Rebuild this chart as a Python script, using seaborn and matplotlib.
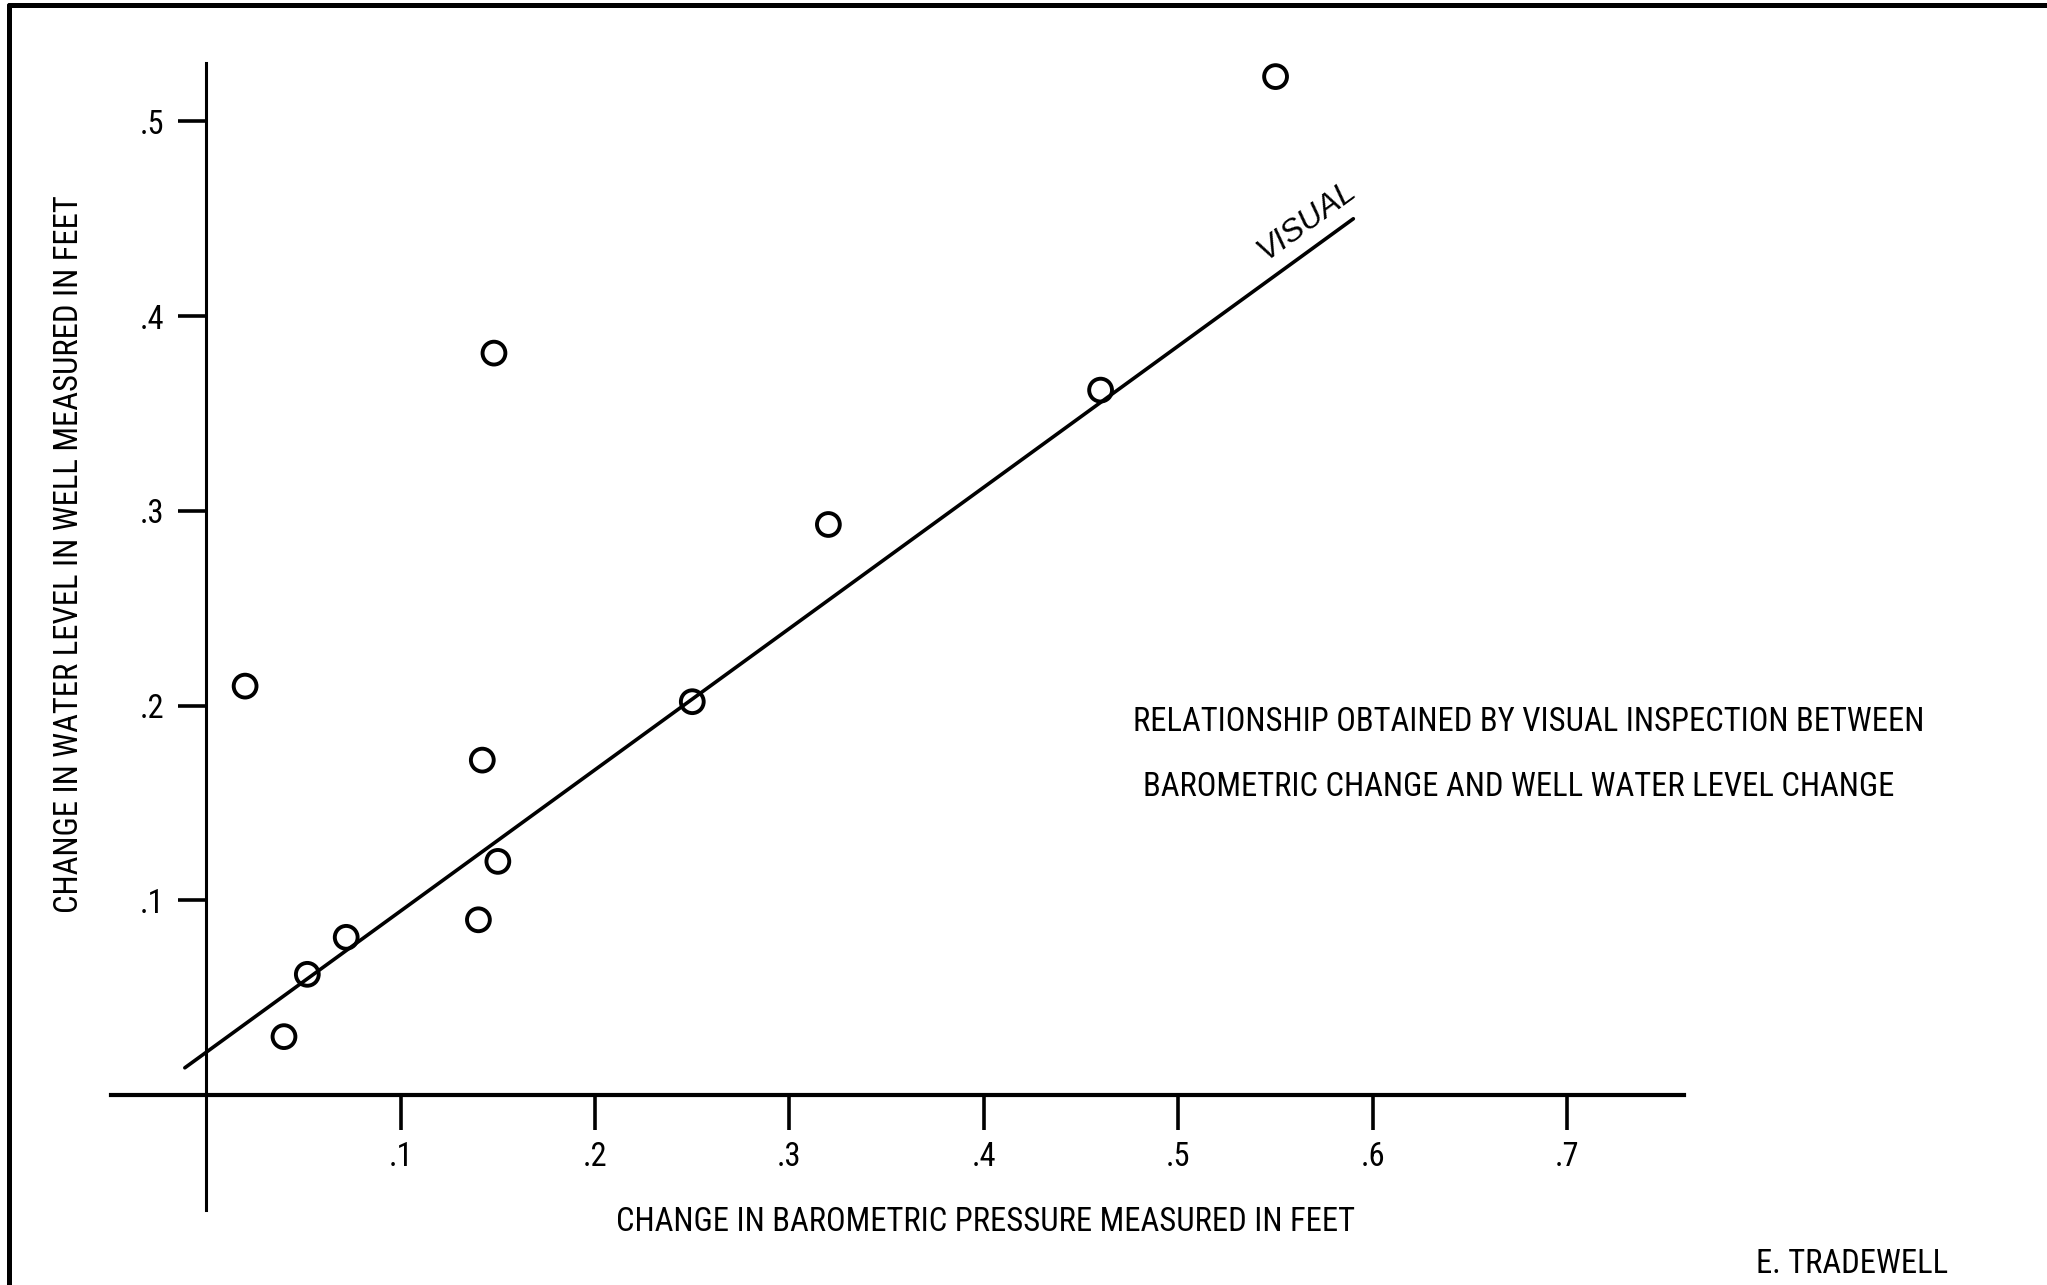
import numpy as np
import pandas as pd
import matplotlib
matplotlib.use("Agg")
import matplotlib.pyplot as plt
from matplotlib.lines import Line2D
from matplotlib import font_manager
import seaborn as sns

# datos
baro_change = [0.02, 0.04, 0.052, 0.072, 0.14, 0.142, 0.15, 0.148, 0.25, 0.32, 0.46, 0.55]
well_change = [0.21, 0.03, 0.062, 0.081, 0.09, 0.172, 0.12, 0.381, 0.202, 0.293, 0.362, 0.523]

# recta trazada a ojo ("VISUAL")
visual_x = [-0.011, 0.59]
visual_y = [0.014, 0.450]

x_ticks = [0.1, 0.2, 0.3, 0.4, 0.5, 0.6, 0.7]
x_tick_labels = [".1", ".2", ".3", ".4", ".5", ".6", ".7"]
y_ticks = [0.1, 0.2, 0.3, 0.4, 0.5]
y_tick_labels = [".1", ".2", ".3", ".4", ".5"]

sns.set_style("white")
names = {f.name for f in font_manager.fontManager.ttflist}
font = "DejaVu Sans"
fs = 18.5
for cand in ["Liberation Sans Narrow", "DejaVu Sans Condensed", "Roboto Condensed",
             "Open Sans Condensed", "Noto Sans Condensed"]:
    if cand in names:
        font = cand
        fs = 23.5
        break
plt.rcParams["font.family"] = [font, "DejaVu Sans"]
plt.rcParams["text.color"] = "black"
plt.rcParams["xtick.color"] = "black"
plt.rcParams["ytick.color"] = "black"

df = pd.DataFrame({"baro": baro_change, "well": well_change})

fig = plt.figure(figsize=(20.47, 12.85), dpi=100)
ax = fig.add_axes([0.0542, 0.0584, 0.7684, 0.8926])
ax.set_facecolor("white")

sns.lineplot(x=visual_x, y=visual_y, ax=ax, color="black", linewidth=2.6)
sns.scatterplot(data=df, x="baro", y="well", ax=ax, s=270, marker="o",
                facecolor="none", edgecolor="black", linewidth=2.8, zorder=3,
                clip_on=False)

ax.set_xlim(-0.049, 0.76)
ax.set_ylim(-0.059, 0.53)

# ejes en cruz en el origen
for side in ["top", "right"]:
    ax.spines[side].set_visible(False)
ax.spines["left"].set_position(("data", 0))
ax.spines["bottom"].set_position(("data", 0))
ax.spines["left"].set_linewidth(2.2)
ax.spines["bottom"].set_linewidth(3.0)
ax.spines["left"].set_color("black")
ax.spines["bottom"].set_color("black")

ax.set_xticks(x_ticks)
ax.set_xticklabels(x_tick_labels)
ax.set_yticks(y_ticks)
ax.set_yticklabels(y_tick_labels)
ax.tick_params(axis="x", bottom=True, direction="out", length=25, width=2.6, pad=8,
               labelsize=fs, colors="black")
ax.tick_params(axis="y", left=True, direction="out", length=20, width=2.6, pad=10,
               labelsize=fs, colors="black")
ax.set_xlabel("")
ax.set_ylabel("")

ax.text(0.566, 0.449, "VISUAL", rotation=36, ha="center", va="center",
        fontsize=23, family=["Liberation Sans", "DejaVu Sans"], style="italic")

ax.text(0.680, 0.1917, "RELATIONSHIP OBTAINED BY VISUAL INSPECTION BETWEEN",
        ha="center", va="center", fontsize=fs)
ax.text(0.675, 0.158, "BAROMETRIC CHANGE AND WELL WATER LEVEL CHANGE",
        ha="center", va="center", fontsize=fs)

fig.text(0.4815, 0.049, "CHANGE IN BAROMETRIC PRESSURE MEASURED IN FEET",
         ha="center", va="center", fontsize=fs)
fig.text(0.0338, 0.569, "CHANGE IN WATER LEVEL IN WELL MEASURED IN FEET",
         ha="center", va="center", rotation=90, fontsize=fs)
fig.text(0.858, 0.0165, "E. TRADEWELL", ha="left", va="center", fontsize=fs)

# marco superior e izquierdo del escaneo
fig.add_artist(Line2D([0.0044, 0.0044], [0.0, 0.996], transform=fig.transFigure,
                      color="black", linewidth=3.6))
fig.add_artist(Line2D([0.0044, 1.0], [0.996, 0.996], transform=fig.transFigure,
                      color="black", linewidth=3.6))

fig.savefig("out.png", dpi=100, facecolor="white")
